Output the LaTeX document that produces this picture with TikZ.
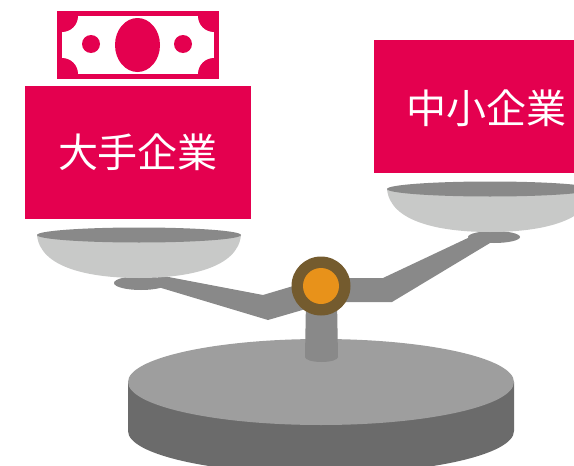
\documentclass[tikz,border=0pt]{standalone}
\usepackage{fontspec}
\newfontfamily\cjk{Noto Sans CJK JP}
\definecolor{brand}{HTML}{E4004F}
\definecolor{panlight}{HTML}{C8C9C8}
\definecolor{metal}{HTML}{898989}
\definecolor{basetop}{HTML}{9E9E9E}
\definecolor{baseside}{HTML}{6B6B6B}
\definecolor{hubring}{HTML}{745B2E}
\definecolor{hubcore}{HTML}{E8921A}
\tikzset{
  label box/.style={fill=brand, draw=none, inner sep=0pt, text=white,
    font=\cjk\fontsize{40}{40}\selectfont},
  label text/.style={text=white, inner sep=0pt, font=\cjk\fontsize{40}{40}\selectfont},
}
\begin{document}
\begin{tikzpicture}[x=1pt, y=-1pt]
\useasboundingbox (0,0) rectangle (574,466);
\begin{scope}
\clip (0,0) rectangle (574,466);

% stand base (cylinder)
\fill[baseside] (128,382) -- (128,431) arc[start angle=180, end angle=0, x radius=193, y radius=43] -- (514,382) -- cycle;
\fill[basetop] (321,382) ellipse[x radius=193, y radius=43];

% post
\fill[metal] (306,300) -- (337,300) -- (338,357) arc[start angle=0, end angle=180, x radius=16.5, y radius=5] -- cycle;

% beam
\fill[metal] (158,275) -- (263,295) -- (300,284) -- (340,278) -- (383,278) -- (470,237)
  -- (490,243) -- (392,302) -- (330,302) -- (268,320) -- (158,287) -- cycle;

% pivot hub
\node[circle, fill=hubring, minimum size=59pt, inner sep=0pt] (hub) at (321,286) {};
\node[circle, fill=hubcore, minimum size=36pt, inner sep=0pt] (hubc) at (hub.center) {};

% left pan
\fill[metal] (141,283) ellipse[x radius=27, y radius=7];
\fill[panlight] (37,235) .. controls (40,268) and (90,278) .. (139,278)
  .. controls (188,278) and (238,268) .. (241,235) -- cycle;
\fill[metal] (139,235) ellipse[x radius=102, y radius=7.5];

% right pan
\fill[metal] (494,237) ellipse[x radius=26, y radius=6];
\fill[panlight] (387,189) .. controls (390,222) and (440,232) .. (490,232)
  .. controls (540,232) and (590,222) .. (593,189) -- cycle;
\fill[metal] (490,189) ellipse[x radius=103, y radius=7.5];

% company labels
\node[label box, minimum width=226pt, minimum height=133pt] (big) at (138,152.5) {大手企業};
\node[label box, minimum width=201pt, minimum height=133pt] (sme) at (474.5,106.5) {};
\node[label text] (smetext) at (486,108) {中小企業};

% banknote
\fill[brand] (57,11) rectangle (219,79);
\begin{scope}
  \clip (62,16) rectangle (214,74);
  \fill[white] (62,16) rectangle (214,74);
  \foreach \cx/\cy in {62/16, 214/16, 62/74, 214/74}
    \fill[brand] (\cx,\cy) circle[radius=16];
\end{scope}
\fill[brand] (137.5,45) ellipse[x radius=22.5, y radius=27];
\fill[brand] (91,44) circle[radius=9];
\fill[brand] (183,44) circle[radius=9];
\end{scope}
\end{tikzpicture}
\end{document}
